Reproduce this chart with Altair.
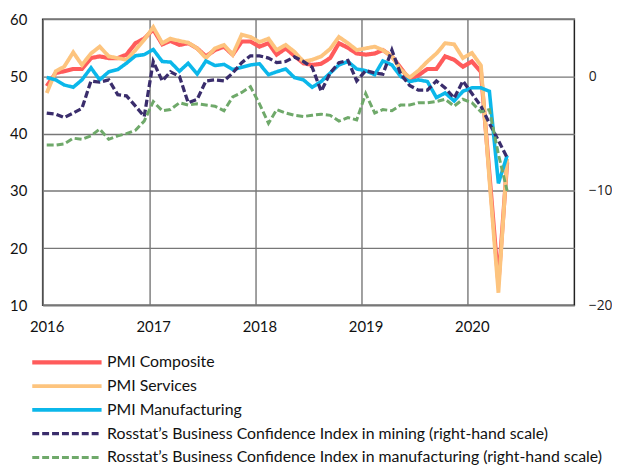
import altair as alt
import pandas as pd

# ---------------- data ----------------
months = [d.strftime("%Y-%m-15") for d in pd.date_range("2016-01-01", "2020-05-01", freq="MS")]

names = [
    "PMI Composite",
    "PMI Services",
    "PMI Manufacturing",
    "Rosstat\u2019s Business Confidence Index in mining (right-hand scale)",
    "Rosstat\u2019s Business Confidence Index in manufacturing (right-hand scale)",
]
colors = ["#ff5b5b", "#fdc47e", "#0bb7ea", "#3a2d6c", "#6fa96a"]

pmi_composite = [
    48.3, 50.6, 50.9, 51.3, 51.3, 53.2, 53.5, 53.2, 53.2, 53.8, 55.8, 56.6,
    58.2, 55.6, 56.2, 55.5, 55.8, 54.9, 53.5, 54.6, 55.2, 53.8, 56.1, 56.1,
    55.2, 55.8, 53.8, 54.9, 53.6, 52.3, 52.0, 52.2, 53.2, 55.8, 55.0, 54.0,
    53.8, 54.0, 54.6, 53.5, 51.5, 49.4, 50.2, 51.3, 51.3, 53.5, 52.9, 51.7,
    52.6, 50.8, 33.0, 13.9, 35.0,
]
pmi_services = [
    47.1, 50.9, 51.7, 54.2, 52.0, 54.0, 55.2, 53.5, 53.2, 52.9, 54.6, 56.4,
    58.6, 55.8, 56.6, 56.2, 55.9, 54.9, 53.2, 54.9, 55.5, 53.8, 57.3, 56.9,
    56.0, 56.6, 54.6, 55.5, 54.3, 52.6, 52.9, 53.5, 54.8, 56.9, 55.8, 54.6,
    54.9, 55.2, 54.6, 53.5, 51.2, 49.8, 51.0, 52.6, 54.0, 55.8, 55.6, 53.2,
    54.1, 51.9, 32.0, 12.2, 35.6,
]
pmi_manufacturing = [
    49.8, 49.4, 48.5, 48.1, 49.4, 51.5, 49.4, 50.8, 51.2, 52.3, 53.6, 53.8,
    54.7, 52.6, 52.5, 50.9, 52.3, 50.4, 52.7, 51.9, 52.1, 51.2, 51.6, 52.0,
    52.2, 50.3, 50.8, 51.3, 49.8, 49.4, 48.1, 49.1, 50.6, 52.0, 52.6, 51.3,
    51.0, 50.3, 52.7, 52.0, 50.0, 49.1, 49.4, 49.1, 46.3, 47.1, 45.7, 47.4,
    48.0, 48.0, 47.4, 31.3, 36.2,
]
bci_mining = [
    -3.2, -3.3, -3.6, -3.2, -2.8, -0.4, -0.5, -0.3, -1.6, -1.7, -2.6, -3.5,
    1.3, -0.4, 0.4, 0.0, -2.3, -2.0, -0.4, -0.3, -0.4, 0.3, 1.2, 1.8,
    1.8, 1.6, 1.2, 1.3, 1.7, 1.3, 0.8, -1.3, 0.3, 1.2, 1.4, -0.4,
    0.5, 0.3, 0.2, 2.3, 0.2, -0.8, -1.2, -1.2, -0.4, -1.0, -1.9, -0.4,
    -1.5, -2.6, -4.1, -5.6, -7.1,
]
bci_manufacturing = [
    -6.0, -6.0, -5.9, -5.4, -5.5, -5.2, -4.6, -5.5, -5.2, -5.0, -4.7, -3.9,
    -2.2, -3.0, -2.9, -2.3, -2.5, -2.4, -2.5, -2.6, -3.0, -1.8, -1.4, -0.9,
    -2.4, -4.1, -2.9, -3.2, -3.4, -3.5, -3.4, -3.3, -3.4, -3.9, -3.6, -3.8,
    -1.5, -3.2, -2.9, -3.0, -2.5, -2.5, -2.3, -2.3, -2.2, -2.0, -2.6, -2.0,
    -2.3, -3.1, -2.9, -6.8, -10.0,
]

left_rows = []
for name, vals in zip(names[:3], [pmi_composite, pmi_services, pmi_manufacturing]):
    for d, v in zip(months, vals):
        left_rows.append({"series": name, "date": d, "value": v})
right_rows = []
for name, vals in zip(names[3:], [bci_mining, bci_manufacturing]):
    for d, v in zip(months, vals):
        right_rows.append({"series": name, "date": d, "value": v})
df_left = pd.DataFrame(left_rows)
df_right = pd.DataFrame(right_rows)

# ---------------- chart ----------------
FONT = "Lato"
color_scale = alt.Scale(domain=names, range=colors)
dash_scale = alt.Scale(domain=names, range=[[1, 0], [1, 0], [1, 0], [7, 3], [7, 3]])
width_scale = alt.Scale(domain=names, range=[4.2, 3, 4, 3, 3])

legend = alt.Legend(
    title=None, orient="none", legendX=-13, legendY=335, direction="vertical",
    symbolType="stroke", symbolSize=4900, symbolStrokeWidth=3.5,
    labelFont=FONT, labelFontSize=16, labelColor="#111", labelOffset=3,
    labelLimit=700, clipHeight=23.2, rowPadding=0, padding=0,
)

x_enc = alt.X(
    "date:T",
    scale=alt.Scale(domain=[alt.DateTime(year=2016, month=1, date=1),
                            alt.DateTime(year=2021, month=1, date=1)]),
    axis=alt.Axis(
        title=None, format="%Y",
        values=[alt.DateTime(year=y, month=1, date=1) for y in range(2016, 2021)],
        grid=True, ticks=False, domain=False, labelPadding=14, labelOffset=4,
        labelFlush=False, labelOverlap=False,
        labelFont=FONT, labelFontSize=15, labelColor="#111", labelAngle=0,
    ),
)

left = alt.Chart(df_left).mark_line().encode(
    x=x_enc,
    y=alt.Y("value:Q", scale=alt.Scale(domain=[10, 60], nice=False, zero=False),
            axis=alt.Axis(title=None, values=[10, 20, 30, 40, 50, 60], grid=True,
                          ticks=False, domain=False, labelPadding=16, labelFlush=False,
                          labelFont=FONT, labelFontSize=15, labelColor="#111")),
    color=alt.Color("series:N", scale=color_scale, legend=legend, sort=names),
    strokeDash=alt.StrokeDash("series:N", scale=dash_scale, legend=legend, sort=names),
    strokeWidth=alt.StrokeWidth("series:N", scale=width_scale, legend=None),
)

right = alt.Chart(df_right).mark_line().encode(
    x=x_enc,
    y=alt.Y("value:Q", scale=alt.Scale(domain=[-20, 5], nice=False, zero=False),
            axis=alt.Axis(title=None, orient="right", values=[0, -10, -20], grid=False,
                          ticks=False, domain=False, labelPadding=14, labelFlush=False,
                          labelFont="Open Sans", labelFontSize=14, labelColor="#222")),
    color=alt.Color("series:N", scale=color_scale, legend=legend, sort=names),
    strokeDash=alt.StrokeDash("series:N", scale=dash_scale, legend=legend, sort=names),
    strokeWidth=alt.StrokeWidth("series:N", scale=width_scale, legend=None),
)

chart = (
    alt.layer(left, right)
    .resolve_scale(y="independent")
    .properties(
        width=537, height=289,
        autosize=alt.AutoSizeParams(type="none"),
        padding={"left": 35, "top": 9, "right": 38, "bottom": 160},
    )
    .configure_view(stroke="#222", strokeWidth=1.5)
    .configure_axis(gridColor="#777", gridWidth=1.4, gridOpacity=1)
)

chart.save("out.html", embed_options={"renderer": "svg", "actions": False})
